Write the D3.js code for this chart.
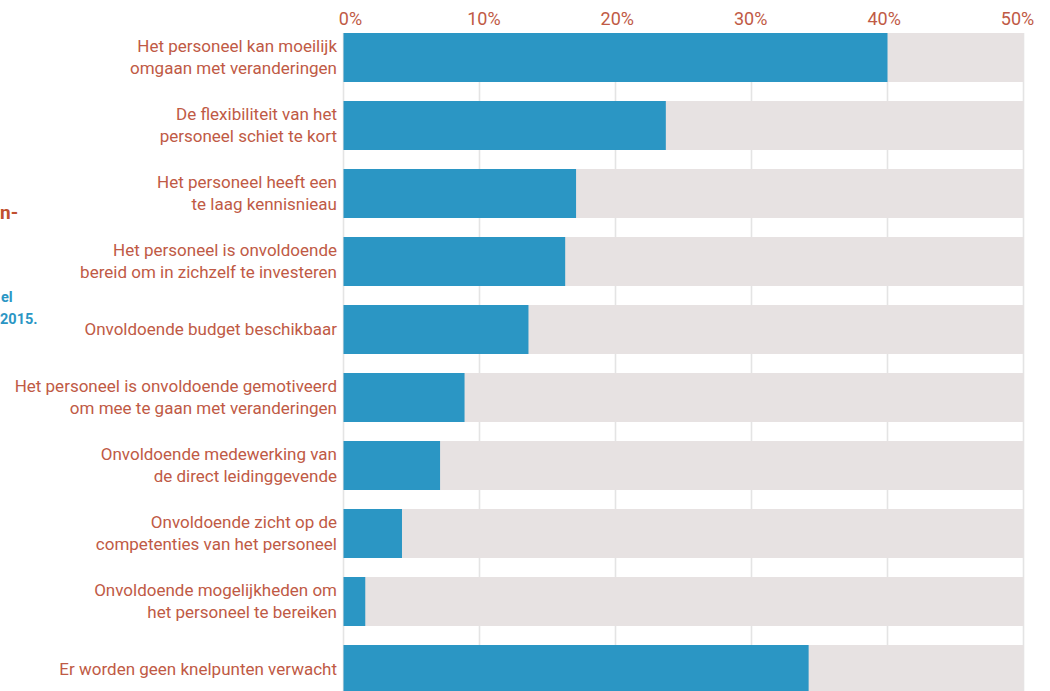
<!DOCTYPE html>
<html>
<head>
<meta charset="utf-8">
<script src="https://cdn.jsdelivr.net/npm/d3@7"></script>
<style>
  html, body { margin: 0; padding: 0; background: #ffffff; overflow: hidden; }
  svg { display: block; }
  text { font-family: Roboto, "Noto Sans", sans-serif; }
</style>
</head>
<body>
<svg id="chart" width="1050" height="691"></svg>
<script>
// Knelpunten (expected bottlenecks), share of respondents in %
const categories = [
  ["Het personeel kan moeilijk", "omgaan met veranderingen"],
  ["De flexibiliteit van het", "personeel schiet te kort"],
  ["Het personeel heeft een", "te laag kennisnieau"],
  ["Het personeel is onvoldoende", "bereid om in zichzelf te investeren"],
  ["Onvoldoende budget beschikbaar"],
  ["Het personeel is onvoldoende gemotiveerd", "om mee te gaan met veranderingen"],
  ["Onvoldoende medewerking van", "de direct leidinggevende"],
  ["Onvoldoende zicht op de", "competenties van het personeel"],
  ["Onvoldoende mogelijkheden om", "het personeel te bereiken"],
  ["Er worden geen knelpunten verwacht"]
];
const values = [40.0, 23.7, 17.1, 16.3, 13.6, 8.9, 7.1, 4.3, 1.6, 34.2];
const maxValue = 50;
const tickValues = [0, 10, 20, 30, 40, 50];

const svg = d3.select("#chart");
const accent = "#c05a45";
const blue = "#2b96c4";
const track = "#e7e2e2";
const grid = "#e4e4e4";

const x = d3.scaleLinear().domain([0, maxValue]).range([343.5, 1023.5]);
// 49px bars on a 68px step
const y = d3.scaleBand()
  .domain(d3.range(categories.length))
  .range([33, 33 + 68 * categories.length - 19])
  .paddingInner(19 / 68)
  .paddingOuter(0)
  .align(0);

// Edge of the side panel (heading and source note)
svg.append("text")
  .attr("x", 0).attr("y", 219)
  .attr("fill", "#c0502f")
  .attr("font-size", 19).attr("font-weight", 700)
  .text("n-");
svg.append("text")
  .attr("x", 1).attr("y", 302)
  .attr("fill", blue)
  .attr("font-size", 14.5).attr("font-weight", 700)
  .text("el");
svg.append("text")
  .attr("x", 0).attr("y", 324)
  .attr("fill", blue)
  .attr("font-size", 14.5).attr("font-weight", 700)
  .text("2015.");

// Vertical gridlines
svg.append("g")
  .selectAll("line")
  .data(tickValues)
  .join("line")
  .attr("x1", d => x(d)).attr("x2", d => x(d))
  .attr("y1", y(0)).attr("y2", 691)
  .attr("stroke", grid)
  .attr("stroke-width", 1.6);

// Background tracks to 50%
svg.append("g")
  .selectAll("rect")
  .data(values)
  .join("rect")
  .attr("x", x(0))
  .attr("y", (d, i) => y(i))
  .attr("width", x(maxValue) - x(0))
  .attr("height", y.bandwidth())
  .attr("fill", track);

// Value bars
svg.append("g")
  .selectAll("rect")
  .data(values)
  .join("rect")
  .attr("x", x(0))
  .attr("y", (d, i) => y(i))
  .attr("width", d => x(d) - x(0))
  .attr("height", y.bandwidth())
  .attr("fill", blue);

// Category labels
const labels = svg.append("g")
  .selectAll("text")
  .data(categories)
  .join("text")
  .attr("text-anchor", "end")
  .attr("fill", accent)
  .attr("font-size", 17);
labels.each(function(lines, i) {
  const cy = y(i) + y.bandwidth() / 2;
  const lh = 22;
  const start = cy - (lines.length - 1) * lh / 2;
  d3.select(this).selectAll("tspan")
    .data(lines)
    .join("tspan")
    .attr("x", 337)
    .attr("y", (d, j) => start + j * lh)
    .attr("dy", "0.35em")
    .text(d => d);
});

// Top axis with percentage labels
const xLabel = d3.scaleLinear().domain([0, maxValue]).range([350, 1017]);
const axis = svg.append("g")
  .attr("transform", "translate(0,25)")
  .call(d3.axisTop(xLabel).tickValues(tickValues).tickFormat(d => d + "%").tickSize(0).tickPadding(0));
axis.select(".domain").remove();
axis.selectAll("text")
  .attr("fill", accent)
  .attr("font-size", 18)
  .style("font-family", "Roboto, 'Noto Sans', sans-serif");
</script>
</body>
</html>
